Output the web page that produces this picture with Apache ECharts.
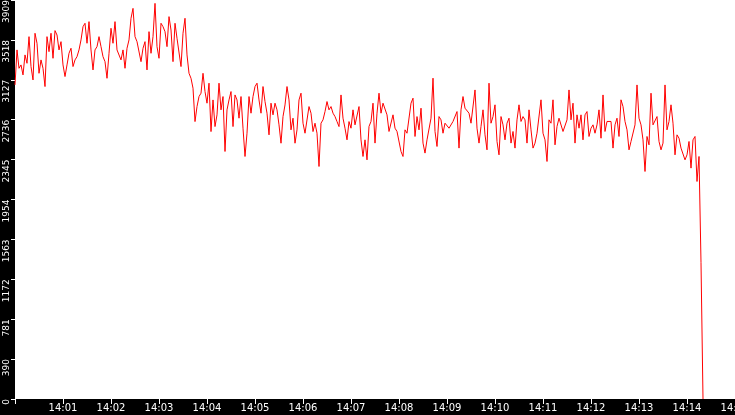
<!DOCTYPE html>
<html><head><meta charset="utf-8">
<script src="https://cdn.jsdelivr.net/npm/echarts@6/dist/echarts.min.js"></script>
<style>html,body{margin:0;padding:0;background:#000;overflow:hidden}#c{width:735px;height:415px}</style>
</head><body><div id="c"></div>
<script>
// Sampled every 2.5 s starting at 14:00:00
const seg1=[3077,3420,3240,3273,3175,3371,3289,3550,3257,3126,3583,3485,3191,3322,3240,3061,3550,3403,3583,3338,3609,3566,3420,3501,3273,3159,3273,3387,3436,3257,3322,3354,3420,3518,3648,3681,3485,3697,3420,3224,3420,3452,3550,3452,3354,3305,3142,3387,3632,3485,3697,3420,3436,3322,3420,3240,3436,3518,3730,3827];
const seg2=[3550,3501,3485,3305,3436,3501,3224,3599,3387,3550,3876,3452,3338,3681,3648,3599,3452,3746,3615,3305,3681,3534,3550,3257,3583,3730,3371,3191,3142,3045,2718,2865,2963,2996,3191,3012,2898,3094,2620,2930,2669,2784,3094,2833,2963,2425,2833,2930,3012,2669,2979,2930,2751,2963,2653,2376,2604,2963];
const seg3=[2800,2963,3061,3094,2930,2800,3061,2914,2800,2588,2898,2784,2898,2833,2686,2506,2767,2881,3061,2930,2637,2751,2506,2637,2930,2996,2702,2604,2620,2865,2800,2620,2702,2604,2278,2702,2735,2816,2914,2833,2865,2800,2767,2718,2669,2979,2751,2653,2539,2718,2653,2833,2686,2702,2865,2539,2376];
const seg4=[2539,2343,2670,2719,2898,2507,2800,2996,2800,2898,2914,2784,2621,2637,2784,2653,2621,2604,2425,2376,2637,2604,2588,2898,2947,2572,2767,2637,2849,2507,2409,2539,2523,2751,3143,2621,2474,2767,2735,2604,2702,2702,2653,2637,2719,2702,2816,2458,2833,2963,2849,2865,2800,2702,2702,3028,2653,2507,2670,2833];
const seg5=[2588,2441,3094,2702,2767,2882,2523,2392,2767,2686,2539,2702,2751,2507,2621,2458,2735,2882,2719,2767,2735,2507,2833,2637,2458,2507,2604,2621,2931,2604,2539,2327,2735,2702,2931,2490,2670,2751,2751,2621,2637,2735,3028,2735,2898,2507,2784,2653,2784,2539,2784,2816,2572,2653,2686,2604,2686,2833,2555,2979];
const seg6=[2621,2719,2735,2719,2458,2686,2751,2572,2931,2865,2719,2637,2441,2523,2539,2686,3077,2751,2686,2539,2229,2572,2490,2996,2686,2670,2767,2523,2441,2507,3077,2637,2719,2882,2702,2392,2588,2555,2458,2441,2343,2392,2523,2262,2539,2572,2131,2376,1336,0];
const yTickLabels=['0','390','781','1172','1563','1954','2345','2736','3127','3518','3909'];
const yMax=3909;
const yStep=390.9;
const startTime=new Date(2024,0,1,14,0,0).getTime();
const endTime=new Date(2024,0,1,14,15,0).getTime();
const sampleStepMs=2500;

const values=[].concat(seg1,seg2,seg3,seg4,seg5,seg6);
const data=values.map((v,i)=>[startTime+i*sampleStepMs,v]);
const pad=n=>(n<10?'0':'')+n;

const chart=echarts.init(document.getElementById('c'));
chart.setOption({
  backgroundColor:'#000',
  animation:false,
  grid:{left:15,right:0,top:0,bottom:16,show:true,backgroundColor:'#fff',borderWidth:0,containLabel:false,outerBoundsMode:'none'},
  xAxis:{
    type:'time',min:startTime,max:endTime,interval:60000,minInterval:60000,maxInterval:60000,
    axisLine:{show:false},
    axisTick:{show:true,length:5,lineStyle:{color:'#fff',width:1}},
    axisLabel:{color:'#fff',fontSize:10,fontFamily:'DejaVu Sans',margin:4,showMinLabel:false,showMaxLabel:true,hideOverlap:false,
      formatter:v=>{if(v<=startTime)return '';const d=new Date(v);return pad(d.getHours())+':'+pad(d.getMinutes());}},
    splitLine:{show:false}
  },
  yAxis:{
    type:'value',min:0,max:yMax,interval:yStep,
    axisLine:{show:false},
    axisTick:{show:true,length:4,lineStyle:{color:'#fff',width:1}},
    axisLabel:{color:'#fff',fontSize:9,fontFamily:'DejaVu Sans',rotate:90,align:'right',verticalAlign:'bottom',margin:4,
      showMinLabel:true,showMaxLabel:true,
      formatter:v=>yTickLabels[Math.round(v/yStep)]},
    splitLine:{show:false}
  },
  series:[{type:'line',data:data,symbol:'none',showSymbol:false,smooth:false,
    lineStyle:{color:'#ff0000',width:1},itemStyle:{color:'#ff0000'}}]
});
</script></body></html>
